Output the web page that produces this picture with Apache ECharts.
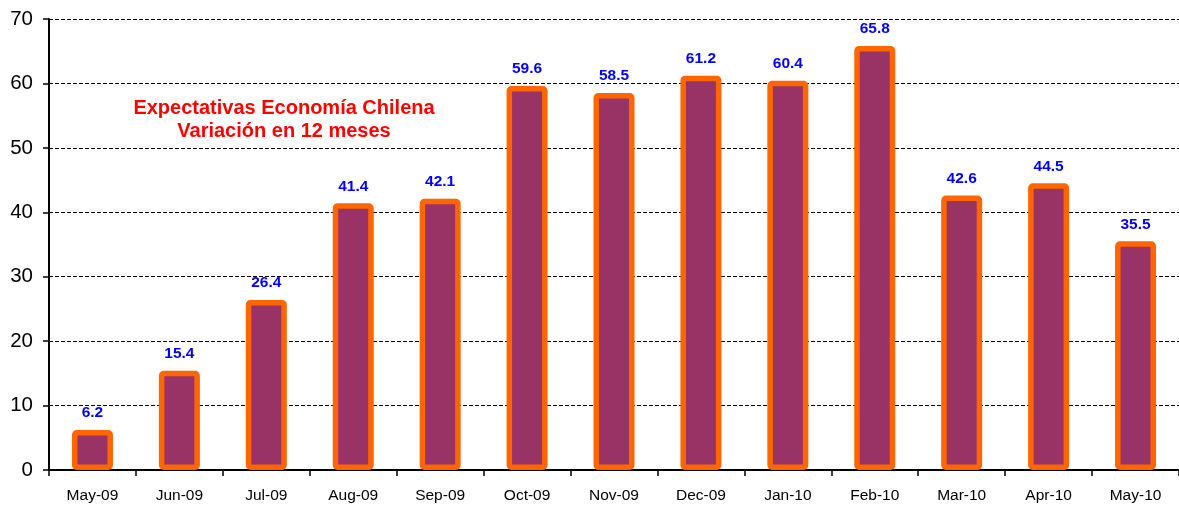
<!DOCTYPE html>
<html>
<head>
<meta charset="utf-8">
<script src="https://cdn.jsdelivr.net/npm/echarts@6/dist/echarts.min.js"></script>
<style>
  html, body { margin: 0; padding: 0; background: #fff; }
  #chart { width: 1179px; height: 506px; }
</style>
</head>
<body>
<div id="chart"></div>
<script>
// datos
var months = ['May-09', 'Jun-09', 'Jul-09', 'Aug-09', 'Sep-09', 'Oct-09', 'Nov-09',
              'Dec-09', 'Jan-10', 'Feb-10', 'Mar-10', 'Apr-10', 'May-10'];
var values = [6.2, 15.4, 26.4, 41.4, 42.1, 59.6, 58.5, 61.2, 60.4, 65.8, 42.6, 44.5, 35.5];
var titleLines = ['Expectativas Economía Chilena', 'Variación en 12 meses'];

var font = '"Liberation Sans", Arial, sans-serif';
var chart = echarts.init(document.getElementById('chart'));

chart.setOption({
    animation: false,
    title: {
        text: titleLines.join('\n'),
        left: 279,
        top: 92,
        textAlign: 'center',
        textStyle: {
            color: '#ff0000',
            fontFamily: font,
            fontWeight: 'bold',
            fontSize: 20,
            lineHeight: 23
        }
    },
    grid: { left: 49, right: 0, top: 19, bottom: 36 },
    xAxis: {
        type: 'category',
        data: months,
        axisLine: { lineStyle: { color: '#000', width: 2 } },
        axisTick: { show: true, inside: false, length: 6, lineStyle: { color: '#000', width: 1.5 } },
        axisLabel: { color: '#000', fontFamily: font, fontSize: 15.5, margin: 18 }
    },
    yAxis: {
        type: 'value',
        min: 0,
        max: 70,
        interval: 10,
        axisLine: { show: true, lineStyle: { color: '#000', width: 2 } },
        axisTick: { show: true, length: 6, lineStyle: { color: '#000', width: 1.5 } },
        axisLabel: { color: '#000', fontFamily: font, fontSize: 20.5, margin: 16 },
        splitLine: { lineStyle: { color: '#000', type: [4, 2], width: 1 } }
    },
    series: [{
        type: 'bar',
        data: values,
        barWidth: 41,
        itemStyle: {
            color: '#993366',
            borderColor: '#ff6600',
            borderWidth: 5.5,
            borderRadius: 2
        },
        label: {
            show: true,
            position: 'top',
            distance: 9,
            color: '#0000ff',
            fontFamily: font,
            fontWeight: 'bold',
            fontSize: 15.5,
            formatter: function (p) { return p.value.toFixed(1); }
        }
    }]
});
</script>
</body>
</html>
